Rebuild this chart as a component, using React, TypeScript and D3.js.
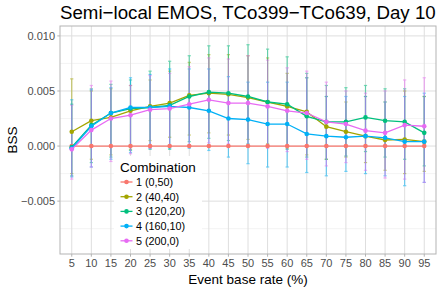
import * as d3 from 'd3';

const rates = ['5', '10', '15', '20', '25', '30', '35', '40', '45', '50', '55', '60', '65', '70', '75', '80', '85', '90', '95'];
const combos = ['1 (0,50)', '2 (40,40)', '3 (120,20)', '4 (160,10)', '5 (200,0)'];
const colors = ['#F8766D', '#A3A500', '#00BF7D', '#00B0F6', '#E76BF3'];
const yTicks = [-0.005, 0, 0.005, 0.01];
const yMinor = [-0.0075, -0.0025, 0.0025, 0.0075];

// BSS per combination
const bss1 = [0, 0, 0, 0, 0, 0, 0, 0, 0, 0, 0, 0, 0, 0, 0, 0, 0, 0, 0];
const bss2 = [0.0013, 0.0023, 0.0026, 0.0032, 0.0036, 0.0039, 0.0046, 0.0048, 0.0047, 0.0044, 0.004, 0.0036, 0.0031, 0.00176, 0.0013, 0.0009, 0.00055, 0.0006, 0.0004];
const bss3 = [-0.0001, 0.0019, 0.003, 0.0034, 0.0035, 0.0037, 0.0045, 0.0049, 0.0048, 0.0045, 0.004, 0.0038, 0.0027, 0.0022, 0.0022, 0.0026, 0.0023, 0.0022, 0.0012];
const bss4 = [-0.0002, 0.0018, 0.003, 0.0035, 0.0035, 0.0036, 0.0035, 0.0032, 0.0025, 0.0024, 0.002, 0.002, 0.0011, 0.0009, 0.0008, 0.0009, 0.00075, 0.0004, 0.0004];
const bss5 = [-0.0003, 0.00145, 0.0025, 0.0028, 0.0033, 0.0034, 0.0038, 0.0042, 0.0039, 0.0039, 0.0036, 0.0032, 0.003, 0.0022, 0.002, 0.0014, 0.0012, 0.0019, 0.0018];

// error bar ranges
const up2 = [0.0061, 0.005, 0.0052, 0.0055, 0.006, 0.0068, 0.0076, 0.0083, 0.0083, 0.0082, 0.008, 0.0066, 0.0062, 0.0045, 0.004, 0.0045, 0.004, 0.005, 0.0045];
const lo2 = [-0.0025, -0.0012, -0.0008, -0.0003, 0.0005, 0.0008, 0.001, 0.0012, 0.001, 0.0006, 0.0002, -0.0002, -0.0008, -0.0012, -0.001, -0.0015, -0.0022, -0.0025, -0.0023];
const up3 = [0.0038, 0.0052, 0.0056, 0.006, 0.0068, 0.0077, 0.0082, 0.0091, 0.0091, 0.0092, 0.0088, 0.0081, 0.0066, 0.0055, 0.0053, 0.0055, 0.0052, 0.0052, 0.0045];
const lo3 = [-0.0027, -0.0015, -0.001, -0.0004, -0.0003, -0.0003, 0.0004, 0.0007, 0.0005, 0.0002, 0, -0.0003, -0.001, -0.0012, -0.0009, -0.0005, -0.001, -0.0012, -0.0018];
const up4 = [0.0042, 0.0051, 0.0053, 0.0062, 0.0065, 0.007, 0.007, 0.007, 0.0063, 0.0058, 0.0058, 0.0058, 0.0062, 0.0045, 0.0045, 0.0045, 0.004, 0.0045, 0.0048];
const lo4 = [-0.0028, -0.0019, -0.0012, -0.0006, -0.0002, -0.0002, -0.0002, -0.0004, -0.001, -0.0016, -0.0019, -0.0019, -0.0024, -0.0027, -0.0023, -0.0025, -0.0027, -0.0036, -0.0033];
const up5 = [0.0037, 0.0055, 0.0059, 0.0055, 0.0064, 0.0066, 0.0072, 0.008, 0.0079, 0.0082, 0.0078, 0.0071, 0.0068, 0.0058, 0.005, 0.0048, 0.005, 0.006, 0.0062];
const lo5 = [-0.003, -0.0019, -0.0014, -0.0007, -0.0002, 0, 0.0001, 0.0003, 0.0002, 0, -0.0002, -0.0005, -0.0012, -0.0018, -0.0015, -0.0022, -0.0029, -0.003, -0.0033];

const series = [
  { v: bss1, up: null as number[] | null, lo: null as number[] | null },
  { v: bss2, up: up2, lo: lo2 },
  { v: bss3, up: up3, lo: lo3 },
  { v: bss4, up: up4, lo: lo4 },
  { v: bss5, up: up5, lo: lo5 },
];

const W = 441;
const H = 289;
const m = { left: 60, right: 5, top: 26, bottom: 35 };
const font = 'Liberation Sans, Arial, sans-serif';

export default function App() {
  const x = d3.scalePoint<string>().domain(rates).range([m.left, W - m.right]).padding(0.6);
  const y = d3.scaleLinear().domain([-0.0098, 0.0109]).range([H - m.bottom, m.top]);
  const line = d3.line<number>().x((_, i) => x(rates[i])!).y((d) => y(d));
  const pl = m.left;
  const pr = W - m.right;
  const pt = m.top;
  const pb = H - m.bottom;
  const lgX = 114;
  const lgY = 156;

  return (
    <svg width={W} height={H} style={{ position: 'absolute', left: 0, top: 0 }} fontFamily={font}>
      <rect width={W} height={H} fill="#fff" />
      <text x={pl} y={18.5} fontSize={18.7} fill="#000">Semi−local EMOS, TCo399−TCo639, Day 10</text>
      {/* grid */}
      {yMinor.map((t) => (
        <line key={'mn' + t} x1={pl} x2={pr} y1={y(t)} y2={y(t)} stroke="#EDEDED" strokeWidth={0.6} />
      ))}
      {yTicks.map((t) => (
        <line key={'mj' + t} x1={pl} x2={pr} y1={y(t)} y2={y(t)} stroke="#DEDEDE" strokeWidth={1} />
      ))}
      {rates.map((r) => (
        <line key={'v' + r} x1={x(r)} x2={x(r)} y1={pt} y2={pb} stroke="#DEDEDE" strokeWidth={1} />
      ))}
      {/* error bars */}
      {series.map((s, k) =>
        s.up
          ? s.v.map((_, i) => {
              const cx = x(rates[i])!;
              return (
                <g key={'e' + k + '-' + i} stroke={colors[k]} strokeWidth={1.2} opacity={0.55}>
                  <line x1={cx} x2={cx} y1={y(s.up![i])} y2={y(s.lo![i])} />
                  <line x1={cx - 1.6} x2={cx + 1.6} y1={y(s.up![i])} y2={y(s.up![i])} />
                  <line x1={cx - 1.6} x2={cx + 1.6} y1={y(s.lo![i])} y2={y(s.lo![i])} />
                </g>
              );
            })
          : null
      )}
      {/* lines and points */}
      {series.map((s, k) => (
        <g key={'s' + k}>
          <path d={line(s.v)!} fill="none" stroke={colors[k]} strokeWidth={1.3} />
          {s.v.map((d, i) => (
            <circle key={i} cx={x(rates[i])} cy={y(d)} r={2.3} fill={colors[k]} />
          ))}
        </g>
      ))}
      {/* panel border */}
      <rect x={pl} y={pt} width={pr - pl} height={pb - pt} fill="none" stroke="#B3B3B3" strokeWidth={1} />
      {/* axes */}
      {yTicks.map((t) => (
        <g key={'yt' + t}>
          <line x1={pl - 2.7} x2={pl} y1={y(t)} y2={y(t)} stroke="#B3B3B3" />
          <text x={pl - 5} y={y(t)} dy="0.35em" textAnchor="end" fontSize={11} fill="#4D4D4D">
            {d3.format('.3f')(t).replace('-', '−')}
          </text>
        </g>
      ))}
      {rates.map((r) => (
        <g key={'xt' + r}>
          <line x1={x(r)} x2={x(r)} y1={pb} y2={pb + 2.7} stroke="#B3B3B3" />
          <text x={x(r)} y={pb + 13.3} textAnchor="middle" fontSize={11} fill="#4D4D4D">{r}</text>
        </g>
      ))}
      <text x={(pl + pr) / 2} y={284} textAnchor="middle" fontSize={13.5} fill="#000">Event base rate (%)</text>
      <text transform={`translate(17,${(pt + pb) / 2}) rotate(-90)`} textAnchor="middle" fontSize={13.5} fill="#000">BSS</text>
      {/* legend */}
      <rect x={lgX} y={lgY} width={88} height={93} fill="#fff" />
      <text x={lgX + 6} y={lgY + 15.5} fontSize={13.5} fill="#000">Combination</text>
      {combos.map((c, k) => {
        const cy = lgY + 26 + k * 14.7;
        return (
          <g key={c}>
            <line x1={lgX + 6.5} x2={lgX + 18.5} y1={cy} y2={cy} stroke={colors[k]} strokeWidth={1.3} />
            <circle cx={lgX + 12.5} cy={cy} r={2.3} fill={colors[k]} />
            <text x={lgX + 22} y={cy} dy="0.36em" fontSize={10.8} fill="#000">{c}</text>
          </g>
        );
      })}
    </svg>
  );
}
